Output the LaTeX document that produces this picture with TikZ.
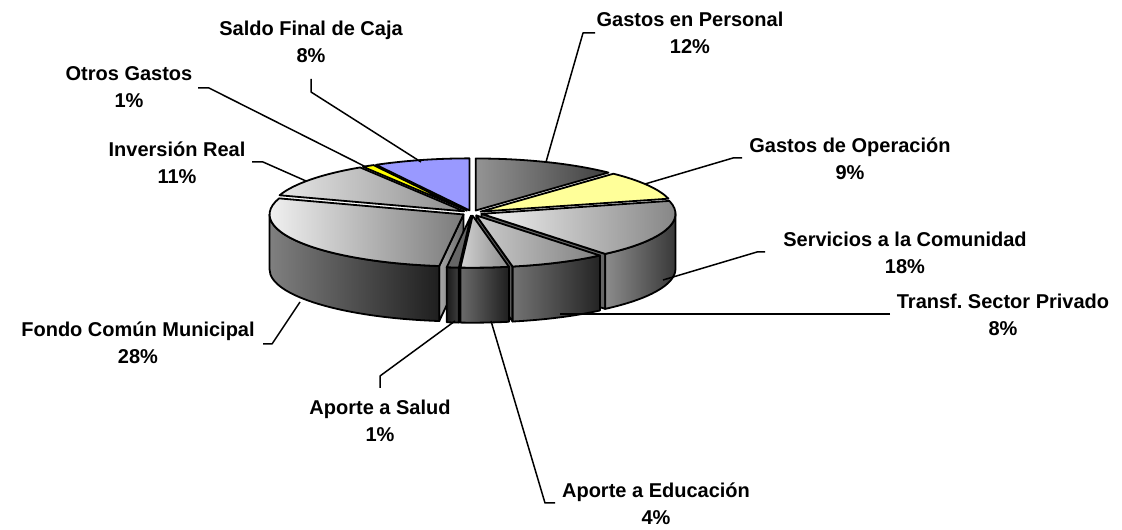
\documentclass[tikz,border=0pt]{standalone}
\usepackage{fontspec}
\setmainfont{Liberation Sans}
\usetikzlibrary{calc}
\frenchspacing
\definecolor{saldo}{RGB}{153,153,255}
\definecolor{oper}{RGB}{255,255,153}
\definecolor{otros}{RGB}{255,255,0}
\newcommand{\sliceCenter}[3]{\coordinate (#3) at ($(C)+({(#1+#2)/2}:10pt and 2.7pt)$);}
\newcommand{\sliceTop}[4]{\path[edge,#4] (#3) -- ($(#3)+(#1:194pt and 52pt)$) arc[start angle=#1,end angle=#2,x radius=194pt,y radius=52pt] -- cycle;}
\newcommand{\sliceSide}[4]{\path[edge,#4] ($(#3)+(#1:194pt and 52pt)$) arc[start angle=#1,end angle=#2,x radius=194pt,y radius=52pt] -- ++(0pt,-55pt) arc[start angle=#2,end angle=#1,x radius=194pt,y radius=52pt] -- cycle;}
\newcommand{\sliceFace}[3]{\path[edge,#3] (#2) -- ($(#2)+(#1:194pt and 52pt)$) -- ++(0pt,-55pt) -- ($(#2)+(0pt,-55pt)$) -- cycle;}
\begin{document}
\begin{tikzpicture}[x=1pt,y=1pt,line join=round,
  lbl/.style={font=\bfseries\fontsize{20}{27}\selectfont,align=center,anchor=north,inner sep=0pt},
  leader/.style={draw=black,line width=1.5pt},
  edge/.style={draw=black,line width=1.8pt}]
\useasboundingbox (0,0) rectangle (1122,530);
\coordinate (C) at (472,317);
% slice centres (exploded)
\sliceCenter{90}{118.8}{tSaldo}
\sliceCenter{46.8}{90}{tPers}
\sliceCenter{118.8}{122.4}{tOtros}
\sliceCenter{122.4}{162}{tInv}
\sliceCenter{14.4}{46.8}{tOper}
\sliceCenter{-50.4}{14.4}{tServ}
\sliceCenter{-198}{-97.2}{tFondo}
\sliceCenter{-79.2}{-50.4}{tTransf}
\sliceCenter{-97.2}{-93.6}{tSalud}
\sliceCenter{-93.6}{-79.2}{tEduc}
% back to front
\sliceTop{90}{118.8}{tSaldo}{fill=saldo}
\sliceTop{46.8}{90}{tPers}{left color=black!42,right color=black!75}
\sliceTop{118.8}{122.4}{tOtros}{fill=otros}
\sliceTop{122.4}{162}{tInv}{left color=black!10,right color=black!45}
\sliceTop{14.4}{46.8}{tOper}{fill=oper}
\sliceFace{-50.4}{tServ}{fill=black!60}
\sliceSide{-50.4}{0}{tServ}{left color=black!45,right color=black!78}
\sliceTop{-50.4}{14.4}{tServ}{left color=black!5,right color=black!50}
\sliceFace{-97.2}{tFondo}{left color=black!35,right color=black!60}
\sliceSide{-180}{-97.2}{tFondo}{left color=black!50,right color=black!88}
\sliceTop{-198}{-97.2}{tFondo}{left color=black!3,right color=black!52}
\sliceFace{-79.2}{tTransf}{fill=black!65}
\sliceSide{-79.2}{-50.4}{tTransf}{left color=black!55,right color=black!86}
\sliceTop{-79.2}{-50.4}{tTransf}{left color=black!20,right color=black!50}
\sliceFace{-93.6}{tSalud}{fill=black!70}
\sliceSide{-97.2}{-93.6}{tSalud}{left color=black!90,right color=black!75}
\sliceTop{-97.2}{-93.6}{tSalud}{fill=black!60}
\sliceSide{-93.6}{-79.2}{tEduc}{left color=black!58,right color=black!88}
\sliceTop{-93.6}{-79.2}{tEduc}{left color=black!18,right color=black!45}
% labels
\node[lbl] (lSaldo) at (311,509) {Saldo Final de Caja\\8\%};
\node[lbl] (lOtros) at (129,464) {Otros Gastos\\1\%};
\node[lbl] (lInv) at (177,388) {Inversión Real\\11\%};
\node[lbl] (lPers) at (690,518) {Gastos en Personal\\12\%};
\node[lbl] (lOper) at (850,392) {Gastos de Operación\\9\%};
\node[lbl] (lServ) at (905,298) {Servicios a la Comunidad\\18\%};
\node[lbl] (lTransf) at (1003,236) {Transf. Sector Privado\\8\%};
\node[lbl] (lFondo) at (138,208) {Fondo Común Municipal\\28\%};
\node[lbl] (lSalud) at (380,130) {Aporte a Salud\\1\%};
\node[lbl] (lEduc) at (656,47) {Aporte a Educación\\4\%};
% leader points
\coordinate (aSaldo) at (311,451); \coordinate (bSaldo) at (311,438); \coordinate (eSaldo) at (421,368);
\coordinate (aOtros) at (198,442); \coordinate (bOtros) at (209,442); \coordinate (eOtros) at (366,363);
\coordinate (aInv) at (252,368); \coordinate (bInv) at (263,368); \coordinate (eInv) at (306,349);
\coordinate (aPers) at (595,497); \coordinate (bPers) at (583,497); \coordinate (ePers) at (546,368);
\coordinate (aOper) at (742,372); \coordinate (bOper) at (733,372); \coordinate (eOper) at (645,346);
\coordinate (aServ) at (765,278); \coordinate (bServ) at (757,278); \coordinate (eServ) at (663,250);
\coordinate (aTransf) at (890,216); \coordinate (eTransf) at (560,216);
\coordinate (aFondo) at (263,186); \coordinate (bFondo) at (272,186); \coordinate (eFondo) at (300,228);
\coordinate (aSalud) at (380,142); \coordinate (bSalud) at (380,154); \coordinate (eSalud) at (455,209);
\coordinate (aEduc) at (555,27); \coordinate (bEduc) at (545,27); \coordinate (eEduc) at (491,209);
\draw[leader] (aSaldo) -- (bSaldo) -- (eSaldo);
\draw[leader] (aOtros) -- (bOtros) -- (eOtros);
\draw[leader] (aInv) -- (bInv) -- (eInv);
\draw[leader] (aPers) -- (bPers) -- (ePers);
\draw[leader] (aOper) -- (bOper) -- (eOper);
\draw[leader] (aServ) -- (bServ) -- (eServ);
\draw[leader] (aTransf) -- (eTransf);
\draw[leader] (aFondo) -- (bFondo) -- (eFondo);
\draw[leader] (aSalud) -- (bSalud) -- (eSalud);
\draw[leader] (aEduc) -- (bEduc) -- (eEduc);
\end{tikzpicture}
\end{document}
